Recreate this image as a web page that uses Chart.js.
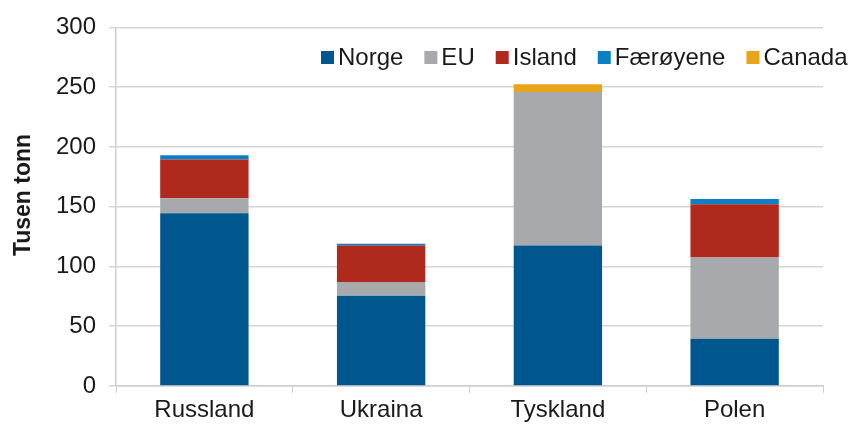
<!DOCTYPE html>
<html>
<head>
<meta charset="utf-8">
<script src="https://cdn.jsdelivr.net/npm/chart.js@4"></script>
<style>
  body { margin: 0; background: #fff; }
</style>
</head>
<body>
<canvas id="myChart" width="857" height="429"></canvas>
<script>
let countries = ['Russland', 'Ukraina', 'Tyskland', 'Polen'];
let norge = [144.5, 75.5, 117.5, 39.5];
let eu = [12.5, 11.5, 128.5, 68];
let island = [32.5, 30.5, 0, 44.5];
let faeroyene = [3.5, 1.5, 0, 4.5];
let canada = [0, 0, 6.5, 0];
let yTicks = [0, 50, 100, 150, 200, 250, 300];
let yTitle = 'Tusen tonn';

const ctx = document.getElementById('myChart');
let fontName = '"Liberation Sans", Arial, sans-serif';

// legend sits inside the plot, top right; y title drawn a bit above centre like the original
let extras = {
    id: 'extras',
    afterDraw(chart) {
        let c = chart.ctx;
        let x = 321;
        let y = 57;
        c.save();
        c.font = '24px ' + fontName;
        c.textBaseline = 'middle';
        chart.data.datasets.forEach(ds => {
            c.fillStyle = ds.backgroundColor;
            c.fillRect(x, y - 6, 13, 13);
            x += 17;
            c.fillStyle = '#1a1a1a';
            c.fillText(ds.label, x, y + 1);
            x += c.measureText(ds.label).width + 21;
        });

        c.translate(24, 195);
        c.rotate(-Math.PI / 2);
        c.font = 'bold 23px ' + fontName;
        c.textAlign = 'center';
        c.fillText(yTitle, 0, 0);
        c.restore();
    }
};

new Chart(ctx, {
    type: 'bar',
    data: {
        labels: countries,
        datasets: [
            { label: 'Norge', data: norge, backgroundColor: '#00578d' },
            { label: 'EU', data: eu, backgroundColor: '#a7a9ac' },
            { label: 'Island', data: island, backgroundColor: '#b0291d' },
            { label: 'Færøyene', data: faeroyene, backgroundColor: '#0a7fc6' },
            { label: 'Canada', data: canada, backgroundColor: '#e9a518' }
        ]
    },
    options: {
        responsive: false,
        animation: false,
        datasets: { bar: { barPercentage: 1, categoryPercentage: 0.5 } },
        layout: { padding: { top: 26, right: 34, left: 0, bottom: 0 } },
        plugins: {
            legend: { display: false },
            tooltip: { enabled: false }
        },
        scales: {
            x: {
                stacked: true,
                grid: { drawOnChartArea: false, tickLength: 7, color: '#cfcfcf' },
                border: { color: '#cfcfcf', width: 1.5 },
                ticks: { color: '#1a1a1a', font: { family: fontName, size: 24 }, padding: 3 },
                afterFit(scale) { scale.height = 43; }
            },
            y: {
                stacked: true,
                min: 0,
                max: 300,
                afterBuildTicks(scale) { scale.ticks = yTicks.map(v => ({ value: v })); },
                grid: { color: '#d6d6d6', lineWidth: 1.5, tickLength: 7 },
                border: { color: '#cfcfcf', width: 1.5 },
                ticks: { color: '#1a1a1a', font: { family: fontName, size: 24 }, padding: 13 },
                afterFit(scale) { scale.width = 116; }
            }
        }
    },
    plugins: [extras]
});
</script>
</body>
</html>
